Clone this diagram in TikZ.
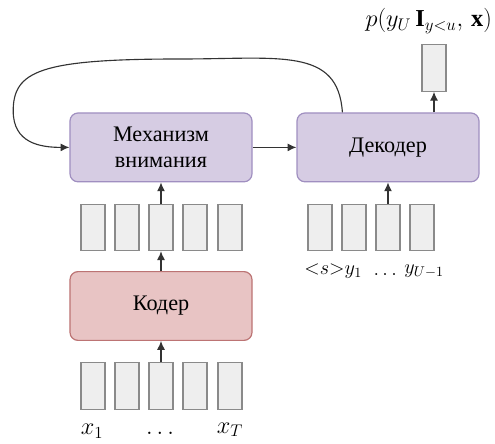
\documentclass[tikz,border=0pt]{standalone}
\usepackage{fontspec}
\setmainfont{Liberation Serif}
\usepackage{amsmath,amssymb}
\usepackage{xcolor}
\usepackage{tikz}
\usetikzlibrary{calc,arrows.meta}
\definecolor{lilac}{HTML}{D6CCE3}
\definecolor{lilacdk}{HTML}{A08FC0}
\definecolor{rose}{HTML}{E8C4C4}
\definecolor{rosedk}{HTML}{BC7474}
\definecolor{cellbg}{HTML}{EEEEEE}
\definecolor{celldk}{HTML}{8A8A8A}
\definecolor{ink}{HTML}{333333}
\tikzset{blk/.style={rectangle,rounded corners=0.2cm,draw=lilacdk,line width=0.85pt,fill=lilac,minimum width=4.55cm,minimum height=1.72cm,align=center,font=\fontsize{15.8}{19}\selectfont}}
\tikzset{encblk/.style={blk,draw=rosedk,fill=rose}}
\tikzset{vec/.style={rectangle,draw=celldk,line width=0.9pt,fill=cellbg,minimum width=0.6cm,minimum height=1.16cm,inner sep=0pt}}
\tikzset{arr/.style={draw=ink,line width=0.8pt,-{Latex[length=2.2mm,width=2mm]}}}
\tikzset{lb/.style={font=\LARGE,inner sep=1pt}}

\begin{document}
\begin{tikzpicture}
\useasboundingbox (0,0) rectangle (12.375,11.075);
% blocks
\node[blk] (att) at (4.025,7.39) {Механизм\\внимания};
\node[blk] (dec) at (9.7,7.39) {Декодер};
\node[encblk] (enc) at (4.025,3.425) {Кодер};
% encoder inputs
\node[vec] (x1) at (2.325,1.425) {}; \node[vec] (x2) at (3.175,1.425) {};
\node[vec] (x3) at (4.025,1.425) {}; \node[vec] (x4) at (4.875,1.425) {};
\node[vec] (x5) at (5.75,1.425) {};
% encoder states
\node[vec] (h1) at (2.325,5.39) {}; \node[vec] (h2) at (3.175,5.39) {};
\node[vec] (h3) at (4.025,5.39) {}; \node[vec] (h4) at (4.875,5.39) {};
\node[vec] (h5) at (5.75,5.39) {};
% decoder inputs
\node[vec] (y1) at (8.0,5.39) {}; \node[vec] (y2) at (8.85,5.39) {};
\node[vec] (y3) at (9.7,5.39) {}; \node[vec] (y4) at (10.55,5.39) {};
\node[vec] (out) at (10.85,9.375) {};
% labels
\node[lb] (lx1) at (2.3,0.3) {$x_1$}; \node[lb] (ldx) at (4.0,0.25) {$\ldots$};
\node[lb] (lxT) at (5.75,0.33) {$x_T$};
\node[lb,font=\Large] (ls) at (8.33,4.3) {${<}s{>}y_1$};
\node[lb,font=\Large] (ldy) at (9.63,4.22) {$\ldots$};
\node[lb,font=\Large] (lyU) at (10.6,4.3) {$y_{U-1}$};
\node[lb] (lp) at (10.72,10.55) {$p(y_U\,\mathbf{I}_{y<u},\,\mathbf{x})$};
% connectors
\draw[arr] (x3.north) -- (enc.south);
\draw[arr] (enc.north) -- (h3.south);
\draw[arr] (h3.north) -- (att.south);
\draw[arr] (y3.north) -- (dec.south);
\draw[arr] (att.east) -- (dec.west);
\draw[arr] (dec.north -| out) -- (out.south);
\draw[arr] ([xshift=1.15cm]dec.north west) .. controls (8.45,9.9) and (7.0,9.6) .. (4.5,9.6)
  .. controls (1.0,9.6) and (0.33,9.3) .. (0.33,8.3)
  .. controls (0.33,7.5) and (1.0,7.39) .. (att.west);
\end{tikzpicture}
\end{document}
